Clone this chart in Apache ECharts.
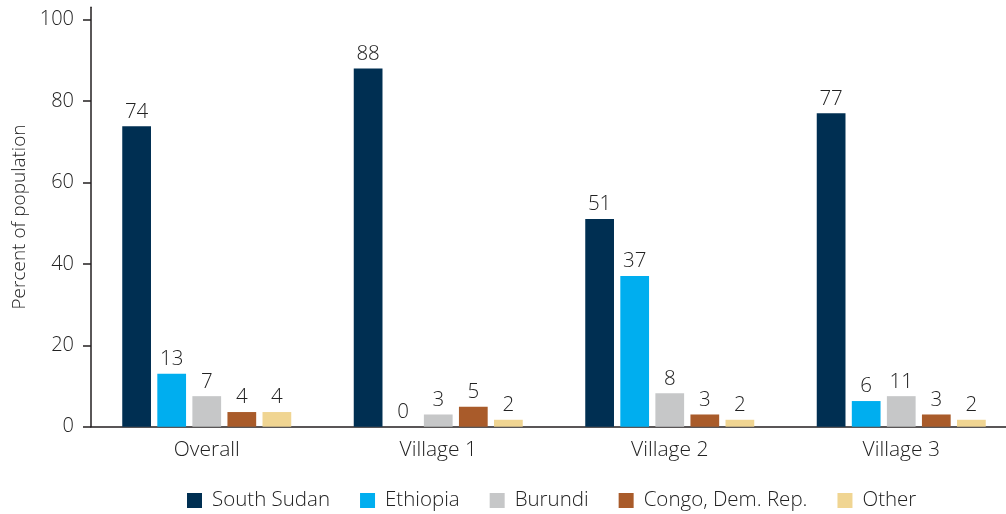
<!DOCTYPE html>
<html>
<head>
<meta charset="utf-8">
<script src="https://cdn.jsdelivr.net/npm/echarts@6/dist/echarts.min.js"></script>
<style>html,body{margin:0;padding:0;background:#fff}#c{width:1006px;height:514px}</style>
</head>
<body>
<div id="c"></div>
<script>
const categories = ['Overall', 'Village 1', 'Village 2', 'Village 3'];
const seriesNames = ['South Sudan', 'Ethiopia', 'Burundi', 'Congo, Dem. Rep.', 'Other'];
// bar heights
const southSudan = [73.8, 88, 51, 77];
const ethiopia = [13, 0, 37, 6.3];
const burundi = [7.5, 3, 8.2, 7.5];
const congo = [3.6, 4.9, 3, 3];
const other = [3.6, 1.7, 1.7, 1.7];
// printed value labels
const southSudanLabels = ['74', '88', '51', '77'];
const ethiopiaLabels = ['13', '0', '37', '6'];
const burundiLabels = ['7', '3', '8', '11'];
const congoLabels = ['4', '5', '3', '3'];
const otherLabels = ['4', '2', '2', '2'];
const yTicks = [0, 20, 40, 60, 80, 100];
const yAxisTop = 103;

const colors = ['#002f52', '#00aeef', '#c6c7c8', '#a95b2a', '#f0d592'];
const values = [southSudan, ethiopia, burundi, congo, other];
const labels = [southSudanLabels, ethiopiaLabels, burundiLabels, congoLabels, otherLabels];
const FONT = 'Open Sans';
const TXT = '#222222';
const W = 300;

const chart = echarts.init(document.getElementById('c'), null, {renderer: 'canvas'});
chart.setOption({
  animation: false,
  textStyle: {fontFamily: FONT},
  color: colors,
  legend: {
    top: 490,
    left: 187,
    padding: 0,
    itemWidth: 15,
    itemHeight: 15,
    itemGap: 30,
    icon: 'rect',
    textStyle: {fontFamily: FONT, fontSize: 20.5, fontWeight: W, color: TXT, padding: [0, 0, 0, 5]},
    data: seriesNames
  },
  grid: {left: 91, top: 7.3, width: 926, height: 419.4, containLabel: false, outerBoundsMode: 'none'},
  xAxis: {
    type: 'category',
    data: categories,
    axisLine: {lineStyle: {color: '#231f20', width: 1.5}},
    axisTick: {show: false},
    axisLabel: {fontFamily: FONT, fontSize: 21, fontWeight: W, color: TXT, margin: 13}
  },
  yAxis: {
    type: 'value',
    min: yTicks[0],
    max: yAxisTop,
    interval: 20,
    name: 'Percent of population',
    nameLocation: 'middle',
    nameGap: 61,
    nameTextStyle: {fontFamily: FONT, fontSize: 19, fontWeight: W, color: TXT},
    axisLine: {show: true, lineStyle: {color: '#231f20', width: 1.5}},
    axisTick: {show: true, length: 8, customValues: yTicks, lineStyle: {color: '#231f20', width: 1.5}},
    axisLabel: {fontFamily: FONT, fontSize: 20, fontWeight: W, color: TXT, margin: 17, customValues: yTicks},
    splitLine: {show: false}
  },
  series: seriesNames.map((n, i) => ({
    name: n,
    type: 'bar',
    barGap: '22%',
    barCategoryGap: '27%',
    data: values[i],
    itemStyle: {color: colors[i]},
    label: {
      show: true,
      position: 'top',
      distance: 4,
      fontFamily: FONT,
      fontSize: 20.5,
      fontWeight: W,
      color: TXT,
      formatter: p => labels[i][p.dataIndex]
    }
  }))
});
</script>
</body>
</html>
